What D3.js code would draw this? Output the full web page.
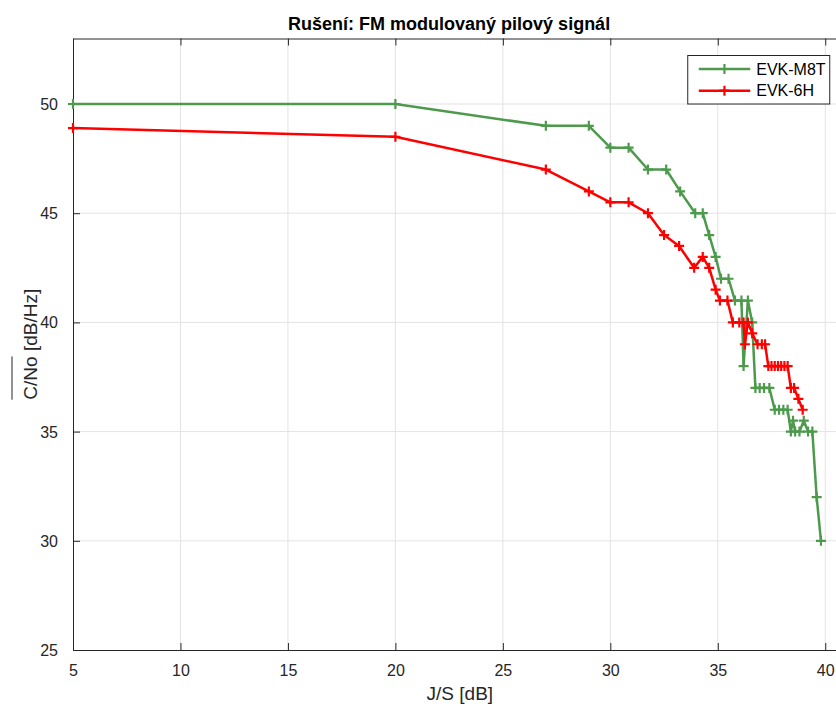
<!DOCTYPE html>
<html>
    <head>
        <script src="https://d3js.org/d3.v7.min.js"></script>
        <style>
            body { margin:0; background:white; font-family:'Liberation Sans', Arial, sans-serif; }
            svg { display:block; }
        </style>
    </head>
    <body>
        <svg width="836" height="707"></svg>
    </body>
    <script>
        // data
        const m8tJS = [5, 20, 27, 29, 30, 30.85, 31.75, 32.6, 33.25, 33.95, 34.3, 34.6, 34.9, 35.15, 35.5,
                       35.8, 36.1, 36.2, 36.4, 36.6, 36.75, 36.95, 37.15, 37.4, 37.65, 37.85, 38.05, 38.25,
                       38.4, 38.5, 38.6, 38.8, 39.0, 39.2, 39.4, 39.6, 39.8];
        const m8tCN = [50, 50, 49, 49, 48, 48, 47, 47, 46, 45, 45, 44, 43, 42, 42,
                       41, 41, 38, 41, 40, 37, 37, 37, 37, 36, 36, 36, 36,
                       35, 35.5, 35, 35, 35.5, 35, 35, 32, 30];
        const h6JS = [5, 20, 27, 29, 30, 30.85, 31.75, 32.5, 33.2, 33.9, 34.3, 34.6, 34.9, 35.1, 35.45,
                      35.7, 36.0, 36.2, 36.26, 36.4, 36.6, 36.85, 37.05, 37.2, 37.35, 37.5, 37.65, 37.8,
                      37.95, 38.1, 38.25, 38.4, 38.55, 38.75, 38.95];
        const h6CN = [48.9, 48.5, 47, 46, 45.5, 45.5, 45, 44, 43.5, 42.5, 43, 42.5, 41.5, 41, 41,
                      40, 40, 40, 39, 40, 39.5, 39, 39, 39, 38, 38, 38, 38,
                      38, 38, 38, 37, 37, 36.5, 36];
        const seriesNames = ['EVK-M8T', 'EVK-6H'];
        const seriesColors = ['#4d9a4d', '#ff0000'];
        const xTicks = [5, 10, 15, 20, 25, 30, 35, 40];
        const yTicks = [25, 30, 35, 40, 45, 50];

        const series = [
            { name: seriesNames[0], color: seriesColors[0], pts: m8tJS.map((x, i) => [x, m8tCN[i]]) },
            { name: seriesNames[1], color: seriesColors[1], pts: h6JS.map((x, i) => [x, h6CN[i]]) }
        ];

        const svg = d3.select('svg');
        // the figure is cropped on the right: the visible part of the axes stops at the picture edge
        const margin = { top: 38.5, left: 73, right: 0, bottom: 57 };
        const innerWidth = 836 - margin.left - margin.right;
        const innerHeight = 707 - margin.top - margin.bottom;

        const xScale = d3.scaleLinear().domain([5, 40.5]).range([0, innerWidth]);
        const yScale = d3.scaleLinear().domain([25, 53]).range([innerHeight, 0]);
        const xFull = 41;   // where the (cropped) axes box really ends

        const g = svg.append('g')
            .attr('transform', `translate(${margin.left},${margin.top})`);

        // grid
        g.append('g').selectAll('line').data(xTicks.slice(1)).enter().append('line')
            .attr('x1', d => xScale(d)).attr('x2', d => xScale(d))
            .attr('y1', 0).attr('y2', innerHeight)
            .attr('stroke', '#e3e3e3').attr('stroke-width', 1);
        g.append('g').selectAll('line').data(yTicks.slice(1)).enter().append('line')
            .attr('x1', 0).attr('x2', innerWidth)
            .attr('y1', d => yScale(d)).attr('y2', d => yScale(d))
            .attr('stroke', '#e3e3e3').attr('stroke-width', 1);

        // axes (ticks pointing inward)
        const axisColor = '#262626';
        const styleAxis = sel => {
            sel.selectAll('.domain').attr('stroke', axisColor);
            sel.selectAll('.tick line').attr('stroke', axisColor);
            sel.selectAll('.tick text')
                .attr('font-family', "'Liberation Sans', Arial, sans-serif")
                .attr('font-size', 16).attr('fill', axisColor);
        };
        g.append('g').attr('transform', `translate(0,${innerHeight})`)
            .call(d3.axisBottom(xScale).tickValues(xTicks).tickSize(-7).tickPadding(15).tickSizeOuter(0))
            .call(styleAxis)
            .call(a => a.selectAll('.tick text').attr('dy', null).attr('y', 26));
        g.append('g')
            .call(d3.axisTop(xScale).tickValues(xTicks).tickSize(-7).tickSizeOuter(0))
            .call(styleAxis)
            .call(a => a.selectAll('.tick text').remove());
        g.append('g')
            .call(d3.axisLeft(yScale).tickValues(yTicks).tickSize(-7).tickPadding(15).tickSizeOuter(0))
            .call(styleAxis)
            .call(a => a.selectAll('.tick text').attr('dy', null).attr('y', 5.5));

        // lines and + markers
        const line = d3.line().x(d => xScale(d[0])).y(d => yScale(d[1]));
        const plusPath = 'M-5,0H5M0,-5V5';
        series.forEach(s => {
            g.append('path').datum(s.pts)
                .attr('d', line)
                .attr('fill', 'none')
                .attr('stroke', s.color)
                .attr('stroke-width', 2.5)
                .attr('stroke-linejoin', 'round');
            g.append('g').selectAll('path').data(s.pts).enter().append('path')
                .attr('transform', d => `translate(${xScale(d[0])},${yScale(d[1])})`)
                .attr('d', plusPath)
                .attr('stroke', s.color)
                .attr('stroke-width', 2.2)
                .attr('fill', 'none');
        });

        // title (centred over 5..40) and labels
        g.append('text')
            .attr('x', (xScale(5) + xScale(40)) / 2).attr('y', -9)
            .attr('text-anchor', 'middle')
            .attr('font-size', '18px').attr('font-weight', 'bold').attr('fill', 'black')
            .text('Rušení: FM modulovaný pilový signál');
        g.append('text')
            .attr('x', (xScale(5) + xScale(xFull)) / 2).attr('y', innerHeight + 50)
            .attr('text-anchor', 'middle')
            .attr('font-size', '19px').attr('fill', axisColor)
            .text('J/S [dB]');

        const yLabel = g.append('g')
            .attr('transform', `translate(-36,${innerHeight / 2}) rotate(-90)`);
        const yText = yLabel.append('text')
            .attr('text-anchor', 'middle')
            .attr('font-size', '19px').attr('fill', axisColor)
            .text('C/No [dB/Hz]');
        const total = yText.node().getComputedTextLength();
        const sub = yText.node().getSubStringLength(0, 4);
        yLabel.append('line')
            .attr('x1', -total / 2).attr('x2', -total / 2 + sub)
            .attr('y1', -25).attr('y2', -25)
            .attr('stroke', axisColor).attr('stroke-width', 1);

        // legend (north-east corner of the full axes box)
        const legend = g.append('g')
            .attr('transform', `translate(${xScale(xFull) - 17 - 142},17)`);
        legend.append('rect')
            .attr('width', 142).attr('height', 48.5)
            .attr('fill', 'white').attr('stroke', axisColor).attr('stroke-width', 1);
        series.forEach((s, i) => {
            const row = legend.append('g').attr('transform', `translate(0,${13.5 + i * 21.7})`);
            row.append('line')
                .attr('x1', 11).attr('x2', 62.5)
                .attr('stroke', s.color).attr('stroke-width', 2.5);
            row.append('path')
                .attr('transform', 'translate(36.7,0)')
                .attr('d', plusPath)
                .attr('stroke', s.color).attr('stroke-width', 2.2);
            row.append('text')
                .attr('x', 68.5).attr('y', 5.5)
                .attr('font-size', '16px').attr('fill', 'black')
                .text(s.name);
        });
    </script>
</html>
